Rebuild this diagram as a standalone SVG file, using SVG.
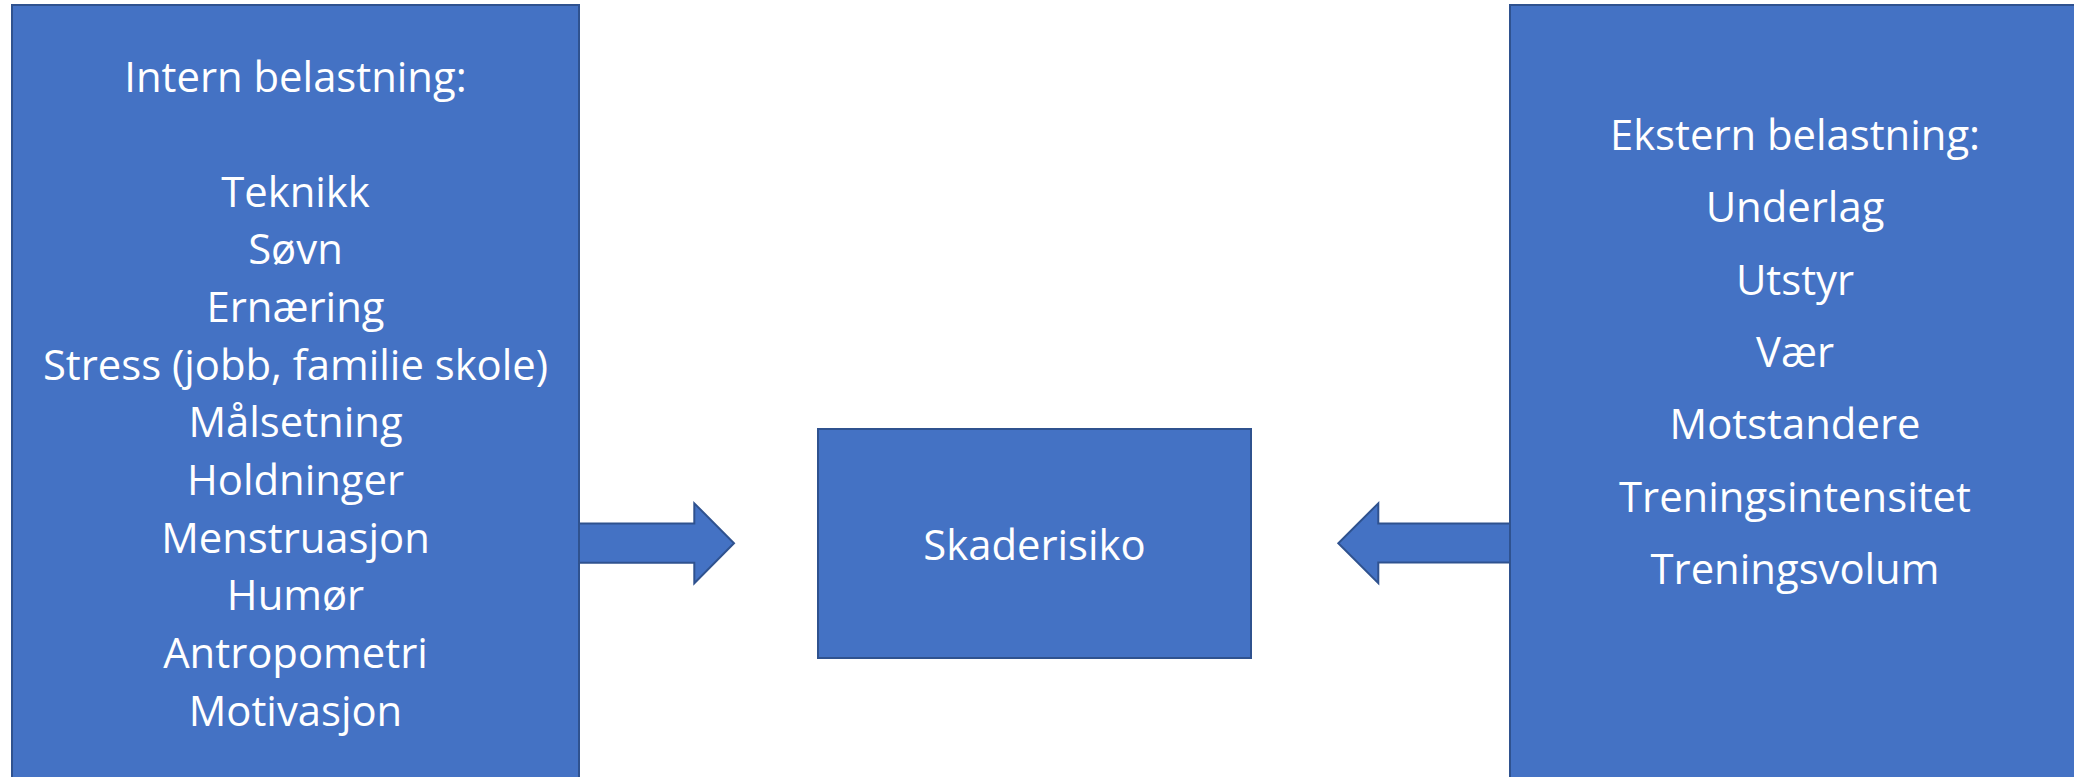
<svg xmlns="http://www.w3.org/2000/svg" width="2074" height="777" viewBox="0 0 2074 777">
  <style>
    .box { fill: #4472C4; stroke: #2F528F; stroke-width: 2; }
    .arrow { fill: #4472C4; stroke: #2F528F; stroke-width: 2; stroke-linejoin: miter; }
    .t { font-family: "Open Sans", "Noto Sans", "Liberation Sans", sans-serif; font-size: 41.8px; fill: #FFFFFF; text-anchor: middle; }
  </style>
  <rect x="0" y="0" width="2074" height="777" fill="#FFFFFF"/>
  <g id="intern">
    <rect class="box" x="12" y="5" width="567" height="790"/>
    <text class="t" x="295.5" y="91.5">Intern belastning:</text>
    <text class="t" x="295.5" y="206.7">Teknikk</text>
    <text class="t" x="295.5" y="264.4">Søvn</text>
    <text class="t" x="295.5" y="322">Ernæring</text>
    <text class="t" x="295.5" y="379.7">Stress (jobb, familie skole)</text>
    <text class="t" x="295.5" y="437.4">Målsetning</text>
    <text class="t" x="295.5" y="495">Holdninger</text>
    <text class="t" x="295.5" y="552.7">Menstruasjon</text>
    <text class="t" x="295.5" y="610.4">Humør</text>
    <text class="t" x="295.5" y="668">Antropometri</text>
    <text class="t" x="295.5" y="725.7">Motivasjon</text>
  </g>
  <g id="skaderisiko">
    <rect class="box" x="818" y="429" width="433" height="229"/>
    <text class="t" x="1034.5" y="560">Skaderisiko</text>
  </g>
  <g id="ekstern">
    <rect class="box" x="1510" y="5" width="570" height="790"/>
    <text class="t" x="1795" y="150">Ekstern belastning:</text>
    <text class="t" x="1795" y="222.3">Underlag</text>
    <text class="t" x="1795" y="294.6">Utstyr</text>
    <text class="t" x="1795" y="366.9">Vær</text>
    <text class="t" x="1795" y="439.2">Motstandere</text>
    <text class="t" x="1795" y="511.5">Treningsintensitet</text>
    <text class="t" x="1795" y="583.8">Treningsvolum</text>
  </g>
  <g id="connectors">
    <polygon class="arrow" points="579,523.5 694.3,523.5 694.3,503.3 734,543.2 694.3,583.2 694.3,562.7 579,562.7"/>
    <polygon class="arrow" points="1510,523.5 1378.3,523.5 1378.3,503.3 1338.3,543.2 1378.3,583.2 1378.3,562.5 1510,562.5"/>
  </g>
</svg>
